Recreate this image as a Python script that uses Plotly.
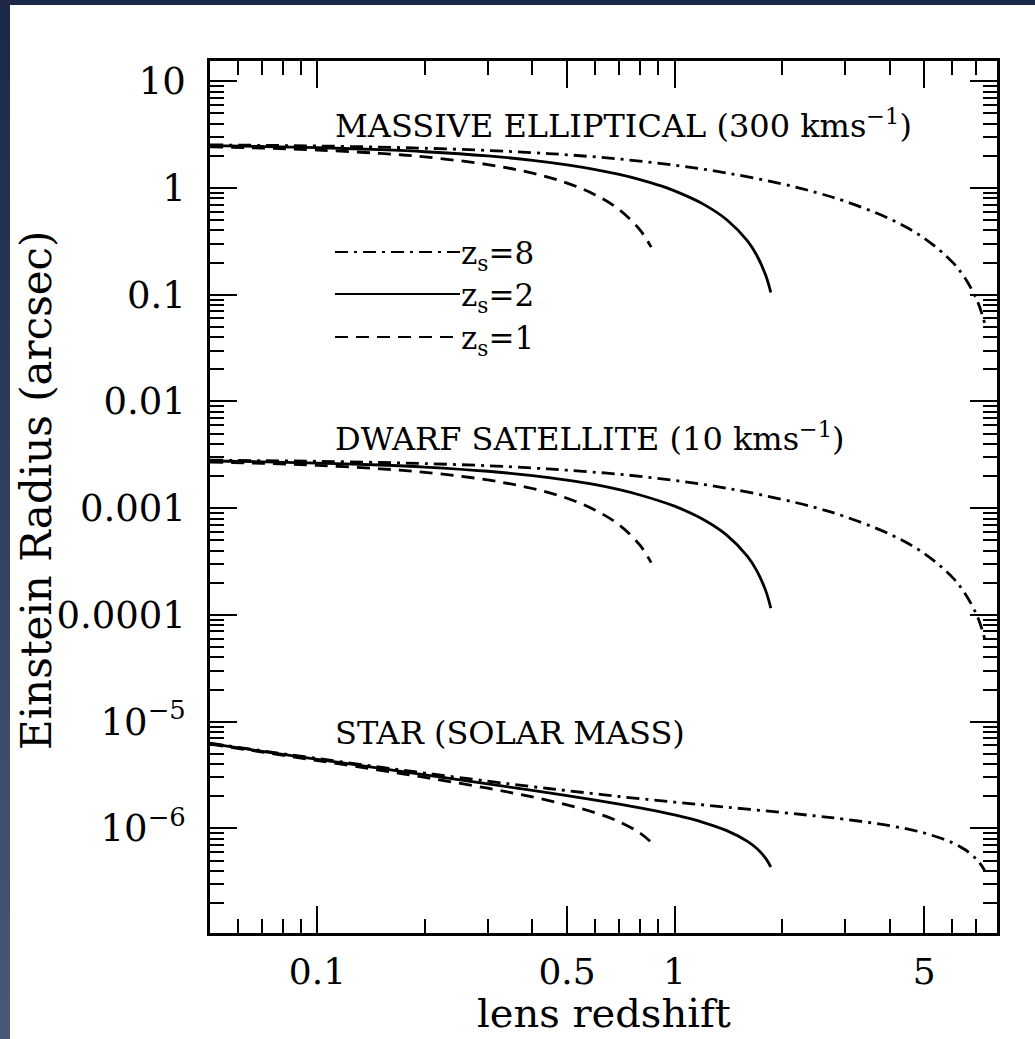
import plotly.graph_objects as go

# ---- lens redshift sample points for each source redshift -----------------
z_src1 = [0.05, 0.07, 0.1, 0.15, 0.2, 0.3, 0.4, 0.5, 0.6, 0.7, 0.8, 0.86]
z_src2 = [0.05, 0.07, 0.1, 0.15, 0.2, 0.3, 0.4, 0.5, 0.6, 0.7, 0.8, 0.9, 1.0,
          1.2, 1.4, 1.6, 1.7, 1.8, 1.86]
z_src8 = [0.05, 0.07, 0.1, 0.15, 0.2, 0.3, 0.4, 0.5, 0.7, 1.0, 1.4, 2.0, 2.5,
          3.0, 4.0, 5.0, 6.0, 6.5, 7.0, 7.2, 7.4]

# ---- Einstein radii (arcsec): massive elliptical, sigma = 300 km/s --------
ell_zs1 = [2.430, 2.364, 2.267, 2.109, 1.954, 1.658, 1.377, 1.112, 0.862,
           0.627, 0.405, 0.279]
ell_zs2 = [2.490, 2.448, 2.386, 2.285, 2.187, 1.997, 1.818, 1.649, 1.490,
           1.340, 1.199, 1.066, 0.940, 0.710, 0.504, 0.319, 0.233, 0.152, 0.105]
ell_zs8 = [2.534, 2.510, 2.475, 2.416, 2.359, 2.249, 2.146, 2.048, 1.869,
           1.637, 1.384, 1.093, 0.905, 0.751, 0.515, 0.339, 0.202, 0.144,
           0.0917, 0.0719, 0.0530]

# ---- dwarf satellite, sigma = 10 km/s --------------------------------------
dw_zs1 = [2.70e-3, 2.63e-3, 2.52e-3, 2.34e-3, 2.17e-3, 1.84e-3, 1.53e-3,
          1.24e-3, 9.58e-4, 6.96e-4, 4.50e-4, 3.09e-4]
dw_zs2 = [2.77e-3, 2.72e-3, 2.65e-3, 2.54e-3, 2.43e-3, 2.22e-3, 2.02e-3,
          1.83e-3, 1.66e-3, 1.49e-3, 1.33e-3, 1.18e-3, 1.045e-3, 7.88e-4,
          5.60e-4, 3.54e-4, 2.59e-4, 1.69e-4, 1.16e-4]
dw_zs8 = [2.82e-3, 2.79e-3, 2.75e-3, 2.68e-3, 2.62e-3, 2.50e-3, 2.38e-3,
          2.27e-3, 2.08e-3, 1.82e-3, 1.54e-3, 1.21e-3, 1.005e-3, 8.34e-4,
          5.72e-4, 3.77e-4, 2.25e-4, 1.60e-4, 1.02e-4, 7.99e-5, 5.88e-5]

# ---- point-mass lens of one solar mass -------------------------------------
star_zs1 = [6.15e-6, 5.19e-6, 4.32e-6, 3.50e-6, 3.00e-6, 2.38e-6, 1.97e-6,
            1.66e-6, 1.40e-6, 1.155e-6, 9.06e-7, 7.42e-7]
star_zs2 = [6.23e-6, 5.28e-6, 4.44e-6, 3.65e-6, 3.17e-6, 2.61e-6, 2.27e-6,
            2.03e-6, 1.84e-6, 1.69e-6, 1.558e-6, 1.442e-6, 1.336e-6, 1.141e-6,
            9.53e-7, 7.57e-7, 6.47e-7, 5.23e-7, 4.35e-7]
star_zs8 = [6.28e-6, 5.34e-6, 4.52e-6, 3.75e-6, 3.30e-6, 2.77e-6, 2.46e-6,
            2.26e-6, 1.99e-6, 1.763e-6, 1.580e-6, 1.409e-6, 1.305e-6, 1.218e-6,
            1.061e-6, 9.06e-7, 7.34e-7, 6.34e-7, 5.16e-7, 4.61e-7, 4.00e-7]

# ---- axis ticks ------------------------------------------------------------
x_major = [0.1, 0.5, 1, 5]
x_major_text = ["0.1", "0.5", "1", "5"]
x_minor = [0.06, 0.07, 0.08, 0.09, 0.2, 0.3, 0.4, 0.6, 0.7, 0.8, 0.9,
           2, 3, 4, 6, 7]
y_major = [10, 1, 0.1, 0.01, 0.001, 0.0001, 1e-5, 1e-6]
y_major_text = ["10", "1", "0.1", "0.01", "0.001", "0.0001",
                "10<sup>\u22125</sup>", "10<sup>\u22126</sup>"]
y_minor = [m * 10.0 ** e for e in range(-7, 1) for m in range(2, 10)]

panel_labels = ["MASSIVE ELLIPTICAL (300 kms<sup>\u22121</sup>)",
                "DWARF SATELLITE (10 kms<sup>\u22121</sup>)",
                "STAR (SOLAR MASS)"]
legend_labels = ["z<sub>s</sub>=8", "z<sub>s</sub>=2", "z<sub>s</sub>=1"]

# ---- page geometry (pixels) -----------------------------------------------
W, H = 1035, 1039
L, R, T, B = 210, 38, 61, 106
PW, PH = W - L - R, H - T - B


def px(xp):
    return (xp - L) / PW


def py(yp):
    return (H - B - yp) / PH


SERIF = "DejaVu Serif"
LW = 2.8
DASH = "13px,8px"
DASHDOT = "13px,6px,3px,6px"

styles = {"8": dict(color="black", width=LW, dash=DASHDOT),
          "2": dict(color="black", width=LW, dash="solid"),
          "1": dict(color="black", width=LW, dash=DASH)}

fig = go.Figure()
families = [
    (z_src8, ell_zs8, "8"), (z_src2, ell_zs2, "2"), (z_src1, ell_zs1, "1"),
    (z_src8, dw_zs8, "8"), (z_src2, dw_zs2, "2"), (z_src1, dw_zs1, "1"),
    (z_src8, star_zs8, "8"), (z_src2, star_zs2, "2"), (z_src1, star_zs1, "1"),
]
for zx, th, key in families:
    fig.add_trace(go.Scatter(x=zx, y=th, mode="lines", line=styles[key],
                             line_shape="spline", showlegend=False,
                             hoverinfo="skip"))

axis_common = dict(
    type="log", showgrid=False, zeroline=False, showline=True,
    linecolor="black", linewidth=2.5, mirror="allticks", ticks="inside",
    ticklen=27, tickwidth=2, tickcolor="black",
)
fig.update_xaxes(**axis_common, range=[-1.301, 0.903], tickmode="array",
                 tickvals=x_major, ticktext=x_major_text, ticklabelstandoff=5,
                 tickfont=dict(family=SERIF, size=36, color="black"),
                 minor=dict(tickmode="array", tickvals=x_minor, ticklen=14,
                            tickwidth=2, tickcolor="black", ticks="inside"))
fig.update_yaxes(**axis_common, range=[-6.98, 1.19], tickmode="array",
                 tickvals=y_major, ticktext=y_major_text, ticklabelstandoff=14,
                 tickfont=dict(family=SERIF, size=37, color="black"),
                 minor=dict(tickmode="array", tickvals=y_minor, ticklen=14,
                            tickwidth=2, tickcolor="black", ticks="inside"))

shapes = []
# dark page edge: thin band on top, shaded band down the left side
NAVY_TOP = (29, 40, 72)
NAVY_BOT = (76, 86, 119)
steps = 26
for i in range(steps):
    f = i / (steps - 1)
    c = tuple(round(a + (b - a) * f) for a, b in zip(NAVY_TOP, NAVY_BOT))
    y0p = H * i / steps
    y1p = H * (i + 1) / steps + 1
    shapes.append(dict(type="rect", xref="paper", yref="paper",
                       x0=px(0), x1=px(10), y0=py(y1p), y1=py(y0p),
                       fillcolor="rgb(%d,%d,%d)" % c, line=dict(width=0),
                       layer="below"))
shapes.append(dict(type="rect", xref="paper", yref="paper",
                   x0=px(0), x1=px(W), y0=py(5), y1=py(0),
                   fillcolor="rgb(29,40,72)", line=dict(width=0), layer="below"))

# legend samples
leg_rows = [(252, "8"), (294, "2"), (337, "1")]
for (yrow, key), text in zip(leg_rows, legend_labels):
    st = styles[key]
    shapes.append(dict(type="line", xref="paper", yref="paper",
                       x0=px(335), x1=px(460), y0=py(yrow), y1=py(yrow),
                       line=dict(color="black", width=2.2, dash=st["dash"])))
fig.update_layout(shapes=shapes)

annotations = []
for (yrow, key), text in zip(leg_rows, legend_labels):
    annotations.append(dict(x=px(459), y=py(yrow + 3), xref="paper",
                            yref="paper", text=text, showarrow=False,
                            xanchor="left", yanchor="middle",
                            font=dict(family=SERIF, size=31, color="black")))
for yrow, text in zip([124, 437, 733], panel_labels):
    annotations.append(dict(x=px(333), y=py(yrow), xref="paper", yref="paper",
                            text=text, showarrow=False, xanchor="left",
                            yanchor="middle",
                            font=dict(family=SERIF, size=32, color="black")))
annotations.append(dict(x=0.5, y=py(1013), xref="paper", yref="paper",
                        text="lens redshift", showarrow=False,
                        xanchor="center", yanchor="middle",
                        font=dict(family=SERIF, size=40, color="black")))
annotations.append(dict(x=px(36), y=py(490), xref="paper", yref="paper",
                        text="Einstein Radius (arcsec)", showarrow=False,
                        textangle=-90, xanchor="center", yanchor="middle",
                        font=dict(family=SERIF, size=42, color="black")))

fig.update_layout(
    width=W, height=H, margin=dict(l=L, r=R, t=T, b=B, pad=0),
    paper_bgcolor="white", plot_bgcolor="white", showlegend=False,
    annotations=annotations,
)

fig.write_html("out.html")
